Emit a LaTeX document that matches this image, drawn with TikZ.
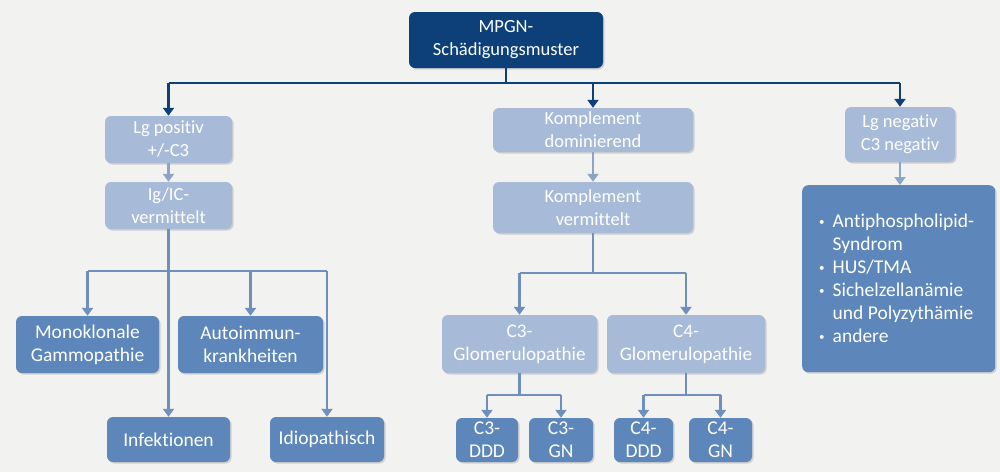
\documentclass[tikz,border=0pt]{standalone}
\usepackage{fontspec}
\setmainfont[Ligatures=NoCommon]{Carlito}
\usetikzlibrary{arrows.meta,shadows}
\definecolor{bgc}{HTML}{F2F2F0}
\definecolor{navy}{HTML}{0D3F78}
\definecolor{lightbox}{HTML}{A7BBD9}
\definecolor{midbox}{HTML}{5D86BA}
\definecolor{linec}{HTML}{6F8FBD}
\definecolor{lightline}{HTML}{8CA4C8}
\tikzset{
  box/.style={rounded corners=6pt, inner sep=0pt, align=center, text=white,
    font=\fontsize{18.5}{23}\selectfont,
    drop shadow={shadow xshift=1.5pt, shadow yshift=-1.5pt, fill=black!35, opacity=0.45}},
  darkbox/.style={box, fill=navy},
  lbox/.style={box, fill=lightbox},
  mbox/.style={box, fill=midbox, font=\fontsize{19.5}{23}\selectfont},
  dk/.style={draw=navy, line width=2.6pt},
  ln/.style={draw=linec, line width=2.3pt},
  ll/.style={draw=lightline, line width=2.3pt},
  tip/.style={-{Triangle[width=11pt,length=8pt]}},
}
\begin{document}
\begin{tikzpicture}[x=1pt,y=-1pt]
\fill[bgc] (0,0) rectangle (1000,472);
\useasboundingbox (0,0) rectangle (1000,472);

% nodes
\node[darkbox, minimum width=194pt, minimum height=56pt] (mpgn) at (506,40) {MPGN-\\Schädigungsmuster};
\node[lbox, minimum width=127pt, minimum height=47pt] (lgpos) at (168.5,139.5) {Lg positiv\\+/-C3};
\node[lbox, minimum width=127pt, minimum height=47pt] (igic) at (168.5,205.5) {Ig/IC-\\vermittelt};
\node[lbox, minimum width=200pt, minimum height=44pt] (kdom) at (593,130) {Komplement\\dominierend};
\node[lbox, minimum width=200pt, minimum height=51pt] (kverm) at (593,207.5) {Komplement\\vermittelt};
\node[lbox, minimum width=110pt, minimum height=55pt] (lgneg) at (900,134.5) {Lg negativ\\C3 negativ};
\node[mbox, minimum width=193pt, minimum height=187pt, anchor=north west] (rbox) at (802,185) {};
\node[text=white, font=\fontsize{19.5}{23}\selectfont, anchor=west, inner sep=0pt] (rtext) at (819,280) {%
  \begin{tabular}{@{}l@{\hspace{8pt}}l@{}}
  {\fontsize{11}{11}\selectfont\raisebox{2pt}{\textbullet}} & Antiphospholipid-\\
   & Syndrom\\
  {\fontsize{11}{11}\selectfont\raisebox{2pt}{\textbullet}} & HUS/TMA\\
  {\fontsize{11}{11}\selectfont\raisebox{2pt}{\textbullet}} & Sichelzellanämie\\
   & und Polyzythämie\\
  {\fontsize{11}{11}\selectfont\raisebox{2pt}{\textbullet}} & andere
  \end{tabular}};
\node[mbox, minimum width=143pt, minimum height=57pt] (mono) at (87.5,344.5) {Monoklonale\\Gammopathie};
\node[mbox, minimum width=145pt, minimum height=57pt] (auto) at (250.5,344.5) {Autoimmun-\\krankheiten};
\node[mbox, minimum width=123pt, minimum height=45pt] (inf) at (168.5,439.5) {Infektionen};
\node[mbox, minimum width=114pt, minimum height=45pt] (idio) at (327,439.5) {Idiopathisch};
\node[lbox, minimum width=155pt, minimum height=58pt, font=\fontsize{19.2}{23}\selectfont] (c3g) at (519.5,344) {C3-\\Glomerulopathie};
\node[lbox, minimum width=158pt, minimum height=58pt, font=\fontsize{19.2}{23}\selectfont] (c4g) at (686,344) {C4-\\Glomerulopathie};
\node[mbox, minimum width=62pt, minimum height=44pt] (c3ddd) at (487,440) {C3-\\DDD};
\node[mbox, minimum width=64pt, minimum height=44pt] (c3gn) at (561,440) {C3-\\GN};
\node[mbox, minimum width=59pt, minimum height=44pt] (c4ddd) at (643.5,440) {C4-\\DDD};
\node[mbox, minimum width=63pt, minimum height=44pt] (c4gn) at (720.5,440) {C4-\\GN};

% top connectors
\coordinate (t0) at (506,83);
\draw[dk] (mpgn.south) -- (t0);
\draw[dk] (lgpos.north |- t0) -- (lgneg.north |- t0);
\draw[dk,tip] (lgpos.north |- t0) -- (lgpos.north);
\draw[dk,tip] (kdom.north |- t0) -- (kdom.north);
\draw[dk,tip] (lgneg.north |- t0) -- (lgneg.north);

% left branch
\draw[ll,tip] (lgpos.south) -- (igic.north);
\draw[ln,tip] (igic.south) -- (inf.north);
\coordinate (h1) at (0,271);
\draw[ln] (mono.north |- h1) -- (idio.north |- h1);
\draw[ln,tip] (mono.north |- h1) -- (mono.north);
\draw[ln,tip] (auto.north |- h1) -- (auto.north);
\draw[ln,tip] (idio.north |- h1) -- (idio.north);

% middle branch
\draw[ll,tip] (kdom.south) -- (kverm.north);
\coordinate (h2) at (0,273);
\draw[ln] (kverm.south) -- (kverm.south |- h2);
\draw[ln] (c3g.north |- h2) -- (c4g.north |- h2);
\draw[ln,tip] (c3g.north |- h2) -- (c3g.north);
\draw[ln,tip] (c4g.north |- h2) -- (c4g.north);

\coordinate (h3) at (0,395);
\draw[ln] (c3g.south) -- (c3g.south |- h3);
\draw[ln] (c3ddd.north |- h3) -- (c3gn.north |- h3);
\draw[ln,tip] (c3ddd.north |- h3) -- (c3ddd.north);
\draw[ln,tip] (c3gn.north |- h3) -- (c3gn.north);
\draw[ln] (c4g.south) -- (c4g.south |- h3);
\draw[ln] (c4ddd.north |- h3) -- (c4gn.north |- h3);
\draw[ln,tip] (c4ddd.north |- h3) -- (c4ddd.north);
\draw[ln,tip] (c4gn.north |- h3) -- (c4gn.north);

% right branch
\draw[ll,tip] (lgneg.south) -- (rbox.north -| lgneg.south);
\end{tikzpicture}
\end{document}
